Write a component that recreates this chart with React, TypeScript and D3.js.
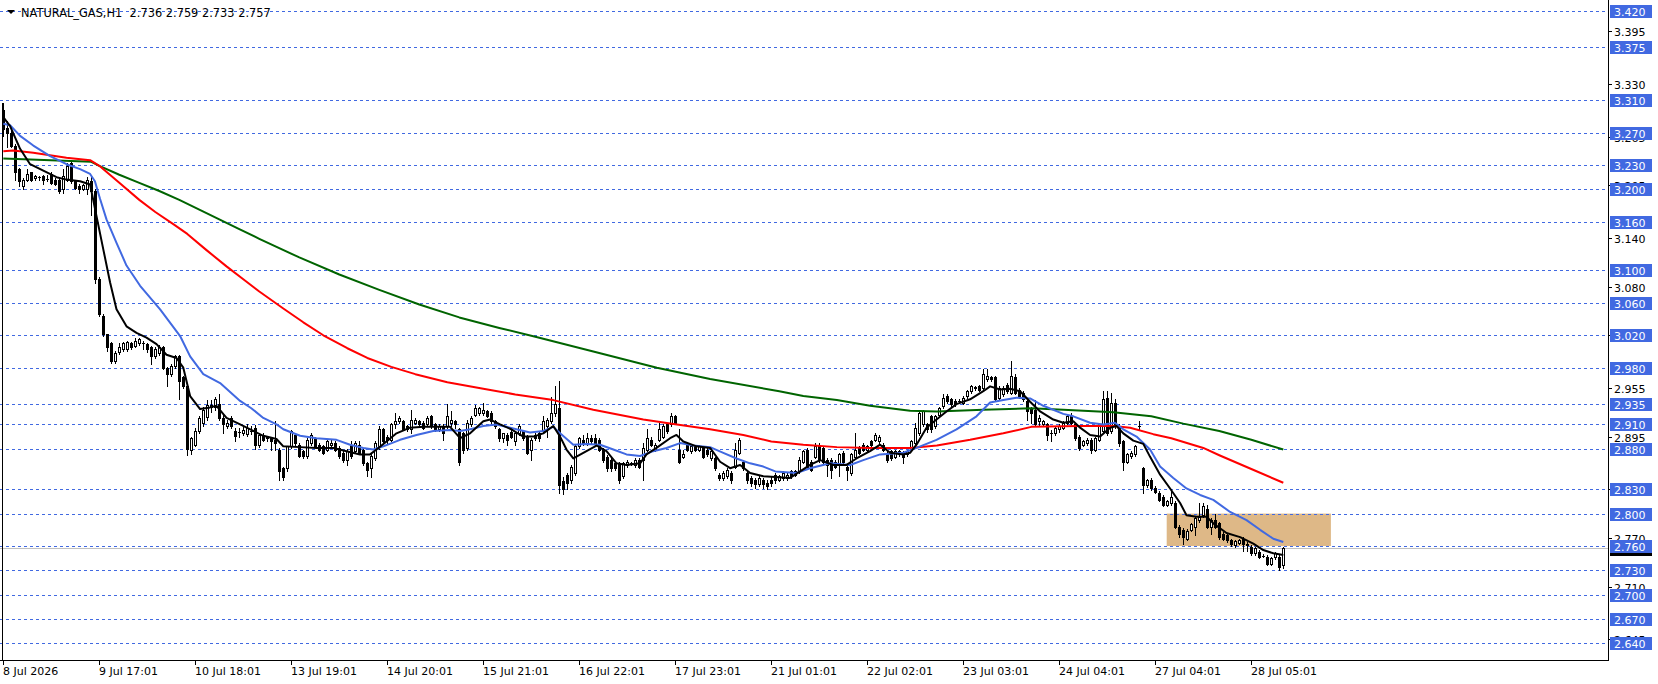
import React from 'react';
import * as d3 from 'd3';

type Bar = [number, number, number, number]; // open, high, low, close
type Pt = [number, number]; // bar index, price

// H1 bars, one group per time-axis section (24 bars each)
const bars08Jul: Bar[] = [
  [3.298, 3.307, 3.266, 3.275], [3.276, 3.284, 3.252, 3.270], [3.270, 3.276, 3.252, 3.254], [3.254, 3.256, 3.212, 3.221],
  [3.225, 3.226, 3.204, 3.210], [3.204, 3.214, 3.200, 3.211], [3.212, 3.225, 3.210, 3.219], [3.221, 3.222, 3.210, 3.212],
  [3.214, 3.218, 3.212, 3.216], [3.215, 3.217, 3.212, 3.215], [3.216, 3.218, 3.207, 3.211], [3.213, 3.218, 3.210, 3.213],
  [3.219, 3.221, 3.206, 3.208], [3.212, 3.214, 3.205, 3.206], [3.212, 3.214, 3.196, 3.198], [3.200, 3.225, 3.196, 3.217],
  [3.212, 3.232, 3.210, 3.229], [3.233, 3.235, 3.208, 3.210], [3.210, 3.212, 3.200, 3.202], [3.204, 3.206, 3.196, 3.200],
  [3.201, 3.207, 3.199, 3.205], [3.200, 3.215, 3.194, 3.212], [3.210, 3.216, 3.168, 3.198], [3.198, 3.200, 3.085, 3.090],
];
const bars09Jul: Bar[] = [
  [3.090, 3.092, 3.044, 3.046], [3.044, 3.046, 3.019, 3.021], [3.021, 3.022, 3.000, 3.005], [3.011, 3.012, 2.986, 2.988],
  [2.988, 3.000, 2.986, 2.998], [2.999, 3.011, 2.997, 3.005], [3.003, 3.012, 3.000, 3.011], [3.003, 3.013, 3.001, 3.012],
  [3.011, 3.012, 3.003, 3.005], [3.007, 3.016, 3.005, 3.013], [3.010, 3.017, 3.008, 3.015], [3.010, 3.013, 3.003, 3.010],
  [3.009, 3.010, 2.999, 3.003], [3.005, 3.007, 2.984, 2.994], [2.994, 3.005, 2.992, 3.003], [2.998, 3.008, 2.996, 3.005],
  [3.005, 3.007, 2.978, 2.980], [2.980, 2.981, 2.957, 2.972], [2.972, 2.984, 2.970, 2.982], [2.982, 2.996, 2.980, 2.994],
  [2.994, 2.996, 2.941, 2.964], [2.968, 2.970, 2.955, 2.957], [2.957, 2.960, 2.872, 2.880], [2.878, 2.895, 2.874, 2.893],
];
const bars10Jul: Bar[] = [
  [2.885, 2.905, 2.883, 2.902], [2.902, 2.920, 2.900, 2.918], [2.912, 2.932, 2.908, 2.928], [2.919, 2.940, 2.915, 2.934],
  [2.932, 2.940, 2.925, 2.934], [2.932, 2.944, 2.928, 2.941], [2.935, 2.948, 2.915, 2.918], [2.918, 2.922, 2.900, 2.910],
  [2.908, 2.915, 2.906, 2.912], [2.918, 2.920, 2.905, 2.908], [2.902, 2.905, 2.890, 2.896], [2.901, 2.905, 2.895, 2.901],
  [2.900, 2.907, 2.897, 2.903], [2.898, 2.910, 2.896, 2.905], [2.902, 2.908, 2.898, 2.902], [2.906, 2.909, 2.880, 2.885],
  [2.885, 2.900, 2.882, 2.897], [2.897, 2.899, 2.889, 2.891], [2.894, 2.896, 2.890, 2.893], [2.893, 2.895, 2.879, 2.889],
  [2.891, 2.914, 2.879, 2.887], [2.879, 2.881, 2.842, 2.852], [2.856, 2.858, 2.842, 2.845], [2.856, 2.884, 2.853, 2.883],
];
const bars13Jul: Bar[] = [
  [2.883, 2.903, 2.881, 2.902], [2.897, 2.900, 2.885, 2.887], [2.885, 2.887, 2.870, 2.871], [2.877, 2.879, 2.869, 2.871],
  [2.871, 2.893, 2.869, 2.891], [2.887, 2.899, 2.885, 2.897], [2.893, 2.895, 2.882, 2.883], [2.885, 2.887, 2.877, 2.879],
  [2.883, 2.885, 2.873, 2.875], [2.879, 2.891, 2.877, 2.889], [2.885, 2.891, 2.883, 2.887], [2.887, 2.889, 2.877, 2.879],
  [2.881, 2.883, 2.869, 2.871], [2.875, 2.877, 2.864, 2.866], [2.866, 2.880, 2.860, 2.877], [2.885, 2.890, 2.869, 2.871],
  [2.877, 2.889, 2.875, 2.887], [2.885, 2.890, 2.873, 2.875], [2.879, 2.881, 2.860, 2.862], [2.862, 2.864, 2.846, 2.854],
  [2.856, 2.873, 2.845, 2.871], [2.868, 2.889, 2.866, 2.887], [2.883, 2.908, 2.880, 2.904], [2.904, 2.906, 2.888, 2.889],
];
const bars14Jul: Bar[] = [
  [2.895, 2.897, 2.887, 2.891], [2.891, 2.912, 2.889, 2.910], [2.910, 2.924, 2.906, 2.914], [2.914, 2.920, 2.912, 2.918],
  [2.914, 2.916, 2.903, 2.904], [2.908, 2.909, 2.902, 2.904], [2.904, 2.928, 2.900, 2.916], [2.912, 2.918, 2.910, 2.916],
  [2.914, 2.916, 2.908, 2.910], [2.912, 2.914, 2.904, 2.906], [2.910, 2.920, 2.908, 2.918], [2.920, 2.922, 2.906, 2.908],
  [2.910, 2.912, 2.902, 2.904], [2.904, 2.910, 2.902, 2.908], [2.908, 2.910, 2.891, 2.899], [2.908, 2.935, 2.906, 2.920],
  [2.912, 2.926, 2.908, 2.916], [2.914, 2.916, 2.906, 2.910], [2.904, 2.906, 2.860, 2.864], [2.899, 2.901, 2.875, 2.879],
  [2.881, 2.916, 2.879, 2.912], [2.910, 2.920, 2.908, 2.918], [2.922, 2.934, 2.920, 2.930], [2.924, 2.932, 2.922, 2.930],
];
const bars15Jul: Bar[] = [
  [2.924, 2.936, 2.922, 2.928], [2.926, 2.928, 2.919, 2.920], [2.924, 2.926, 2.910, 2.914], [2.914, 2.916, 2.906, 2.908],
  [2.904, 2.906, 2.890, 2.893], [2.893, 2.900, 2.888, 2.899], [2.897, 2.899, 2.885, 2.891], [2.901, 2.903, 2.893, 2.895],
  [2.889, 2.901, 2.885, 2.899], [2.899, 2.910, 2.897, 2.908], [2.902, 2.903, 2.891, 2.893], [2.895, 2.897, 2.873, 2.875],
  [2.879, 2.893, 2.866, 2.891], [2.897, 2.899, 2.891, 2.893], [2.899, 2.901, 2.889, 2.893], [2.902, 2.920, 2.899, 2.914],
  [2.908, 2.918, 2.895, 2.916], [2.914, 2.944, 2.912, 2.924], [2.924, 2.957, 2.920, 2.935], [2.930, 2.964, 2.826, 2.835],
  [2.840, 2.845, 2.824, 2.830], [2.848, 2.850, 2.830, 2.838], [2.842, 2.860, 2.838, 2.858], [2.850, 2.885, 2.848, 2.883],
];
const bars16Jul: Bar[] = [
  [2.883, 2.895, 2.881, 2.893], [2.891, 2.897, 2.885, 2.887], [2.887, 2.899, 2.885, 2.893], [2.893, 2.897, 2.887, 2.889],
  [2.893, 2.898, 2.885, 2.887], [2.891, 2.893, 2.877, 2.879], [2.879, 2.881, 2.864, 2.866], [2.870, 2.872, 2.852, 2.856],
  [2.866, 2.868, 2.853, 2.856], [2.862, 2.864, 2.854, 2.856], [2.862, 2.864, 2.838, 2.842], [2.846, 2.864, 2.844, 2.862],
  [2.860, 2.866, 2.858, 2.864], [2.862, 2.864, 2.860, 2.862], [2.860, 2.868, 2.858, 2.866], [2.866, 2.868, 2.856, 2.858],
  [2.866, 2.887, 2.842, 2.881], [2.879, 2.904, 2.877, 2.893], [2.891, 2.895, 2.883, 2.885], [2.879, 2.887, 2.877, 2.885],
  [2.891, 2.912, 2.889, 2.904], [2.895, 2.910, 2.893, 2.908], [2.910, 2.912, 2.899, 2.902], [2.910, 2.924, 2.908, 2.920],
];
const bars17Jul: Bar[] = [
  [2.920, 2.922, 2.910, 2.912], [2.879, 2.904, 2.862, 2.864], [2.870, 2.878, 2.868, 2.874], [2.885, 2.887, 2.877, 2.879],
  [2.877, 2.885, 2.875, 2.883], [2.883, 2.885, 2.877, 2.879], [2.879, 2.885, 2.877, 2.883], [2.881, 2.883, 2.868, 2.870],
  [2.879, 2.881, 2.871, 2.873], [2.868, 2.879, 2.866, 2.877], [2.868, 2.870, 2.854, 2.856], [2.848, 2.850, 2.842, 2.844],
  [2.844, 2.852, 2.842, 2.850], [2.846, 2.856, 2.844, 2.854], [2.850, 2.852, 2.838, 2.842], [2.858, 2.887, 2.856, 2.879],
  [2.875, 2.893, 2.873, 2.891], [2.864, 2.866, 2.854, 2.856], [2.850, 2.852, 2.838, 2.842], [2.844, 2.846, 2.834, 2.838],
  [2.842, 2.844, 2.832, 2.836], [2.836, 2.846, 2.834, 2.844], [2.842, 2.844, 2.832, 2.836], [2.838, 2.842, 2.830, 2.834],
];
const bars21Jul: Bar[] = [
  [2.842, 2.846, 2.834, 2.838], [2.848, 2.850, 2.838, 2.842], [2.842, 2.848, 2.840, 2.846], [2.844, 2.852, 2.842, 2.850],
  [2.844, 2.850, 2.842, 2.848], [2.852, 2.854, 2.844, 2.846], [2.848, 2.854, 2.846, 2.852], [2.852, 2.870, 2.850, 2.866],
  [2.864, 2.879, 2.862, 2.877], [2.879, 2.881, 2.856, 2.858], [2.864, 2.866, 2.852, 2.854], [2.870, 2.887, 2.868, 2.883],
  [2.885, 2.887, 2.864, 2.866], [2.881, 2.883, 2.862, 2.864], [2.866, 2.868, 2.846, 2.860], [2.866, 2.868, 2.844, 2.854],
  [2.864, 2.866, 2.856, 2.858], [2.860, 2.875, 2.846, 2.873], [2.875, 2.877, 2.862, 2.864], [2.858, 2.860, 2.842, 2.854],
  [2.850, 2.875, 2.848, 2.873], [2.870, 2.899, 2.868, 2.879], [2.881, 2.883, 2.873, 2.875], [2.885, 2.887, 2.877, 2.879],
];
const bars22Jul: Bar[] = [
  [2.879, 2.885, 2.877, 2.883], [2.889, 2.891, 2.883, 2.885], [2.891, 2.899, 2.889, 2.897], [2.889, 2.897, 2.887, 2.895],
  [2.885, 2.887, 2.877, 2.879], [2.875, 2.877, 2.864, 2.866], [2.877, 2.879, 2.866, 2.868], [2.870, 2.879, 2.868, 2.877],
  [2.877, 2.879, 2.871, 2.873], [2.875, 2.877, 2.862, 2.870], [2.873, 2.879, 2.871, 2.877], [2.879, 2.891, 2.877, 2.889],
  [2.887, 2.912, 2.885, 2.906], [2.899, 2.926, 2.897, 2.924], [2.910, 2.928, 2.908, 2.926], [2.910, 2.912, 2.901, 2.904],
  [2.920, 2.922, 2.901, 2.904], [2.908, 2.922, 2.906, 2.920], [2.922, 2.932, 2.920, 2.930], [2.933, 2.947, 2.930, 2.943],
  [2.945, 2.947, 2.937, 2.939], [2.941, 2.943, 2.933, 2.935], [2.939, 2.941, 2.933, 2.935], [2.939, 2.941, 2.936, 2.939],
];
const bars23Jul: Bar[] = [
  [2.937, 2.945, 2.935, 2.943], [2.945, 2.953, 2.943, 2.951], [2.951, 2.959, 2.949, 2.957], [2.955, 2.957, 2.953, 2.956],
  [2.957, 2.959, 2.951, 2.953], [2.955, 2.978, 2.953, 2.972], [2.966, 2.978, 2.964, 2.970], [2.968, 2.970, 2.963, 2.966],
  [2.968, 2.970, 2.939, 2.941], [2.943, 2.957, 2.941, 2.955], [2.947, 2.957, 2.945, 2.955], [2.959, 2.961, 2.949, 2.951],
  [2.949, 2.988, 2.947, 2.970], [2.968, 2.972, 2.947, 2.949], [2.953, 2.955, 2.943, 2.945], [2.949, 2.951, 2.939, 2.941],
  [2.939, 2.941, 2.916, 2.926], [2.930, 2.932, 2.912, 2.924], [2.928, 2.940, 2.908, 2.910], [2.914, 2.922, 2.908, 2.918],
  [2.910, 2.916, 2.908, 2.914], [2.910, 2.912, 2.891, 2.897], [2.899, 2.903, 2.889, 2.899], [2.899, 2.908, 2.897, 2.906],
];
const bars24Jul: Bar[] = [
  [2.904, 2.910, 2.901, 2.908], [2.906, 2.914, 2.904, 2.912], [2.912, 2.922, 2.910, 2.920], [2.922, 2.924, 2.910, 2.912],
  [2.910, 2.912, 2.891, 2.893], [2.895, 2.897, 2.879, 2.881], [2.885, 2.891, 2.883, 2.889], [2.887, 2.893, 2.885, 2.891],
  [2.891, 2.893, 2.875, 2.879], [2.879, 2.895, 2.877, 2.893], [2.891, 2.912, 2.889, 2.910], [2.902, 2.951, 2.900, 2.941],
  [2.943, 2.951, 2.897, 2.899], [2.902, 2.949, 2.900, 2.937], [2.937, 2.941, 2.906, 2.908], [2.908, 2.910, 2.883, 2.887],
  [2.889, 2.891, 2.854, 2.864], [2.864, 2.875, 2.862, 2.873], [2.871, 2.877, 2.869, 2.875], [2.873, 2.885, 2.871, 2.883],
  [2.908, 2.914, 2.904, 2.908], [2.856, 2.858, 2.825, 2.835], [2.835, 2.843, 2.833, 2.841], [2.842, 2.844, 2.829, 2.831],
];
const bars27Jul: Bar[] = [
  [2.832, 2.834, 2.825, 2.827], [2.826, 2.828, 2.815, 2.817], [2.821, 2.823, 2.809, 2.811], [2.811, 2.817, 2.809, 2.815],
  [2.813, 2.830, 2.811, 2.821], [2.813, 2.815, 2.782, 2.784], [2.784, 2.786, 2.771, 2.775], [2.780, 2.782, 2.763, 2.771],
  [2.769, 2.781, 2.767, 2.779], [2.780, 2.789, 2.778, 2.787], [2.784, 2.796, 2.774, 2.794], [2.792, 2.813, 2.790, 2.796],
  [2.798, 2.813, 2.796, 2.809], [2.806, 2.810, 2.782, 2.784], [2.784, 2.794, 2.775, 2.792], [2.792, 2.800, 2.782, 2.784],
  [2.788, 2.790, 2.769, 2.771], [2.775, 2.777, 2.767, 2.769], [2.773, 2.775, 2.765, 2.767], [2.767, 2.769, 2.760, 2.762],
  [2.761, 2.768, 2.759, 2.766], [2.764, 2.769, 2.762, 2.767], [2.769, 2.771, 2.754, 2.762], [2.763, 2.765, 2.754, 2.761],
];
const bars28Jul: Bar[] = [
  [2.759, 2.761, 2.749, 2.751], [2.751, 2.759, 2.749, 2.757], [2.753, 2.755, 2.745, 2.747], [2.748, 2.750, 2.746, 2.748],
  [2.747, 2.749, 2.736, 2.738], [2.738, 2.747, 2.736, 2.745], [2.746, 2.753, 2.744, 2.751], [2.747, 2.749, 2.730, 2.734],
  [2.736, 2.759, 2.733, 2.757],
];

// moving averages: [bar index, price]
const maFast: Pt[] = [
  [0, 3.289], [1.7, 3.278], [4.2, 3.25], [6.7, 3.231], [10, 3.223], [13.3, 3.215], [15.8, 3.212], [19.2, 3.21], [21.7, 3.206],
  [23.3, 3.167], [25, 3.126], [26.7, 3.085], [28.3, 3.052], [30.8, 3.031], [33.3, 3.023], [35.8, 3.017], [38.3, 3.009],
  [40.8, 2.996], [43.3, 2.992], [45, 2.98], [46.7, 2.945], [49.2, 2.929], [51.7, 2.931], [53.3, 2.933], [55.8, 2.918],
  [59.2, 2.91], [62.5, 2.902], [65, 2.896], [68.3, 2.892], [70, 2.883], [74.2, 2.882], [78.3, 2.881], [82.5, 2.881],
  [85.8, 2.877], [89.2, 2.873], [91.7, 2.873], [93.3, 2.879], [95.8, 2.889], [98.3, 2.899], [101.7, 2.906], [105, 2.907],
  [111.7, 2.907], [114.2, 2.893], [116.7, 2.899], [120, 2.914], [121.7, 2.916], [124.2, 2.91], [127, 2.904], [130, 2.895],
  [132.5, 2.895], [135, 2.899], [137.5, 2.908], [139.2, 2.895], [140.8, 2.879], [142.5, 2.868], [145, 2.875], [148.3, 2.884],
  [150.8, 2.877], [153.3, 2.862], [155.8, 2.86], [159.2, 2.862], [160.8, 2.873], [163.3, 2.881], [166.7, 2.893], [168.3, 2.897],
  [170, 2.889], [173.3, 2.883], [176.7, 2.881], [179.2, 2.864], [181.7, 2.856], [184.2, 2.86], [186.7, 2.85], [190, 2.846],
  [193, 2.845], [196.7, 2.844], [199.2, 2.852], [201.7, 2.86], [204.2, 2.866], [207.5, 2.86], [210.8, 2.86], [213.3, 2.868],
  [216.7, 2.877], [219.2, 2.885], [221.7, 2.875], [225, 2.873], [226.7, 2.875], [228.3, 2.885], [230.8, 2.906], [233.3, 2.916],
  [235.8, 2.926], [238.3, 2.935], [241.7, 2.941], [245, 2.951], [246.7, 2.957], [249.2, 2.953], [251.7, 2.954], [254.2, 2.951],
  [256.7, 2.938], [259.2, 2.926], [262.5, 2.916], [265, 2.912], [267.5, 2.914], [269.2, 2.906], [271.7, 2.897], [274.2, 2.895],
  [276.7, 2.906], [278.3, 2.908], [280, 2.899], [282.5, 2.89], [285, 2.886], [286.7, 2.87], [289.2, 2.848], [291.7, 2.831],
  [294.2, 2.813], [295.8, 2.798], [298.3, 2.796], [300.8, 2.796], [302.5, 2.788], [305.8, 2.776], [309.2, 2.771],
  [312.5, 2.763], [315, 2.755], [317.5, 2.751], [320, 2.749],
];
const maMid: Pt[] = [
  [0, 3.281], [1.7, 3.279], [4.2, 3.266], [7.5, 3.254], [11.7, 3.241], [15.8, 3.231], [19.2, 3.225], [21.7, 3.219],
  [22.9, 3.21], [24.2, 3.188], [25.8, 3.163], [28.3, 3.134], [30.8, 3.106], [34.2, 3.081], [39.2, 3.052], [44.2, 3.019],
  [46.7, 2.994], [50, 2.972], [54.2, 2.961], [59.2, 2.939], [62, 2.93], [65, 2.918], [68.3, 2.91], [70, 2.904], [74.2, 2.896],
  [78.3, 2.893], [83.3, 2.891], [86.7, 2.885], [90, 2.881], [92.5, 2.879], [95, 2.883], [99.2, 2.891], [103.3, 2.897],
  [107.5, 2.902], [111.7, 2.903], [114.2, 2.902], [116.7, 2.904], [120, 2.908], [123.3, 2.91], [126.7, 2.906], [131.7, 2.9],
  [135, 2.902], [137.5, 2.907], [139.2, 2.899], [142.5, 2.885], [145.8, 2.886], [149.2, 2.885], [152.5, 2.879], [155.8, 2.873],
  [159.2, 2.871], [162.5, 2.877], [165.8, 2.881], [169.2, 2.887], [172.5, 2.884], [176.7, 2.882], [180, 2.875], [183.3, 2.868],
  [186.7, 2.862], [190, 2.858], [193, 2.852], [198.3, 2.85], [201.7, 2.856], [206.7, 2.862], [211.7, 2.86], [215, 2.866],
  [219.2, 2.873], [225, 2.875], [228.3, 2.881], [233.3, 2.891], [238.3, 2.904], [243.3, 2.92], [246.7, 2.937], [250, 2.94],
  [253.3, 2.943], [256.7, 2.942], [260, 2.933], [265, 2.923], [267.5, 2.92], [271.7, 2.912], [275, 2.91], [277.9, 2.912],
  [280, 2.904], [283.3, 2.895], [286.7, 2.879], [289.2, 2.858], [292.5, 2.844], [295.8, 2.831], [299.2, 2.823], [302.5, 2.817],
  [306.7, 2.802], [310.8, 2.792], [314.2, 2.78], [317.5, 2.769], [320, 2.765],
];
const maSlow: Pt[] = [
  [0, 3.247], [2.5, 3.248], [7.5, 3.245], [15.8, 3.239], [21.7, 3.236], [24, 3.229], [29, 3.208], [34, 3.187], [38, 3.172],
  [42.5, 3.157], [46, 3.145], [50.8, 3.125], [55.8, 3.105], [60, 3.089], [64, 3.074], [70, 3.053], [75, 3.036], [80, 3.02],
  [86, 3.004], [91, 2.992], [97, 2.981], [103, 2.972], [111, 2.962], [120, 2.954], [128, 2.947], [137.5, 2.94],
  [147.5, 2.928], [160, 2.916], [168.4, 2.91], [176.7, 2.904], [185, 2.897], [192, 2.889], [200, 2.885], [208.4, 2.882],
  [216.7, 2.881], [226.7, 2.881], [233.4, 2.884], [241.7, 2.891], [250, 2.899], [257, 2.907], [269.2, 2.908], [277.5, 2.908],
  [281.7, 2.906], [287.5, 2.898], [292, 2.893], [300, 2.881], [304, 2.872], [312, 2.855], [320, 2.838],
];
const maLong: Pt[] = [
  [0, 3.238], [22, 3.234], [24, 3.229], [29, 3.218], [34, 3.208], [39, 3.198], [44, 3.187], [49, 3.175], [54, 3.163],
  [59, 3.151], [64, 3.139], [74, 3.116], [84, 3.095], [94, 3.076], [104, 3.058], [114, 3.042], [124, 3.029], [134, 3.017],
  [147.5, 3.0], [163.4, 2.98], [176.7, 2.966], [194, 2.951], [200, 2.945], [208.4, 2.94], [216.7, 2.933], [226.7, 2.927],
  [233.4, 2.926], [245, 2.928], [257, 2.93], [265, 2.928], [277.5, 2.925], [287, 2.92], [295, 2.911], [304, 2.902],
  [312, 2.891], [320, 2.879],
];

const levelPrices = [3.42, 3.375, 3.31, 3.27, 3.23, 3.2, 3.16, 3.1, 3.06, 3.02, 2.98, 2.935, 2.91, 2.88, 2.83, 2.8, 2.76, 2.73, 2.7, 2.67, 2.64];
const axisTickPrices = [3.395, 3.33, 3.265, 3.205, 3.14, 3.08, 3.02, 2.955, 2.895, 2.83, 2.77, 2.71, 2.645];
const timeLabels = ['8 Jul 2026', '9 Jul 17:01', '10 Jul 18:01', '13 Jul 19:01', '14 Jul 20:01', '15 Jul 21:01', '16 Jul 22:01',
  '17 Jul 23:01', '21 Jul 01:01', '22 Jul 02:01', '23 Jul 03:01', '24 Jul 04:01', '27 Jul 04:01', '28 Jul 05:01'];
const timeLabelBars = [0, 24, 48, 72, 96, 120, 144, 168, 192, 216, 240, 264, 288, 312];
const zoneBars = [290.85, 331.9];
const zonePrices = [2.8, 2.76];
const bidPrice = 2.757;
const symbol = 'NATURAL_GAS,H1';

const W = 1658;
const H = 684;
const PLOT_R = 1608;
const PLOT_B = 660;
const FONT = "'DejaVu Sans', Tahoma, sans-serif";
const BLUE = '#4169e1';

export default function App() {
  const candles: Bar[] = ([] as Bar[]).concat(
    bars08Jul, bars09Jul, bars10Jul, bars13Jul, bars14Jul, bars15Jul, bars16Jul,
    bars17Jul, bars21Jul, bars22Jul, bars23Jul, bars24Jul, bars27Jul, bars28Jul,
  );
  const last = candles[candles.length - 1];

  const x = d3.scaleLinear().domain([0, 320]).range([3.3, 1283.3]);
  const y = d3.scaleLinear().domain([2.64, 3.42]).range([643.3, 11]);
  const px = (i: number) => Math.round(x(i)) + 0.5;
  const py = (p: number) => Math.round(y(p));

  const line = d3.line<Pt>().x(d => x(d[0])).y(d => y(d[1]));

  const maLines = [
    { data: maLong, color: '#006400' },
    { data: maSlow, color: '#ff0000' },
    { data: maMid, color: '#4169e1' },
    { data: maFast, color: '#000000' },
  ];

  return (
    <svg width={W} height={H} style={{ position: 'absolute', left: 0, top: 0, background: '#fff' }} fontFamily={FONT}>
      <rect x={0} y={0} width={W} height={H} fill="#fff" />

      {/* rectangle object */}
      <rect x={x(zoneBars[0])} y={y(zonePrices[0])} width={x(zoneBars[1]) - x(zoneBars[0])}
        height={y(zonePrices[1]) - y(zonePrices[0])} fill="#deb887" />

      {/* horizontal level lines */}
      {levelPrices.map(p => (
        <line key={'l' + p} x1={0} x2={PLOT_R} y1={py(p) + 0.5} y2={py(p) + 0.5} stroke={BLUE} strokeDasharray="3,3" />
      ))}

      {/* bid line */}
      <line x1={0} x2={PLOT_R} y1={py(bidPrice) + 0.5} y2={py(bidPrice) + 0.5} stroke="#c0c0c0" />

      {/* candles */}
      {candles.map((b, i) => {
        const [o, h, l, c] = b;
        const cx = px(i);
        const yt = py(Math.max(o, c));
        const yb = py(Math.min(o, c));
        const bull = c >= o;
        return (
          <g key={i}>
            <line x1={cx} x2={cx} y1={py(h)} y2={py(l) + 1} stroke="#000" />
            {yb === yt ? (
              <line x1={cx - 1.5} x2={cx + 1.5} y1={yt + 0.5} y2={yt + 0.5} stroke="#000" />
            ) : bull ? (
              <rect x={cx - 1} y={yt + 0.5} width={2} height={yb - yt} fill="#fff" stroke="#000" />
            ) : (
              <rect x={cx - 1.5} y={yt} width={3} height={yb - yt + 1} fill="#000" />
            )}
          </g>
        );
      })}

      {/* moving averages */}
      {maLines.map((m, k) => (
        <path key={'ma' + k} d={line(m.data) || ''} fill="none" stroke={m.color} strokeWidth={2} strokeLinejoin="round" />
      ))}

      {/* frame */}
      <line x1={2.5} x2={2.5} y1={py(3.307)} y2={PLOT_B + 1} stroke="#000" />
      <line x1={PLOT_R + 0.5} x2={PLOT_R + 0.5} y1={0} y2={PLOT_B + 1} stroke="#000" />
      <line x1={0} x2={PLOT_R + 1} y1={PLOT_B + 0.5} y2={PLOT_B + 0.5} stroke="#000" />

      {/* price axis ticks */}
      {axisTickPrices.map(p => (
        <g key={'t' + p}>
          <line x1={PLOT_R} x2={PLOT_R + 4} y1={py(p) + 0.5} y2={py(p) + 0.5} stroke="#000" />
          <text x={PLOT_R + 6} y={py(p) + 4.5} fontSize={11} fill="#000">{p.toFixed(3)}</text>
        </g>
      ))}

      {/* bid label */}
      <rect x={PLOT_R + 2} y={py(bidPrice) - 6} width={42} height={14} fill="#000" />

      {/* level labels */}
      {levelPrices.map(p => (
        <g key={'lb' + p}>
          <rect x={PLOT_R + 2} y={py(p) - 6} width={42} height={13} fill={BLUE} />
          <text x={PLOT_R + 6} y={py(p) + 4.5} fontSize={11} fill="#fff">{p.toFixed(3)}</text>
        </g>
      ))}

      {/* time axis */}
      {timeLabelBars.map((b, k) => (
        <g key={'x' + b}>
          <line x1={px(b)} x2={px(b)} y1={PLOT_B} y2={PLOT_B + 5} stroke="#000" />
          <text x={px(b) - 0.5} y={PLOT_B + 15} fontSize={11} fill="#000">{timeLabels[k]}</text>
        </g>
      ))}

      {/* title */}
      <path d="M7,10 L15,10 L11,14 Z" fill="#000" />
      <text x={21} y={16.5} fontSize={11.4} fill="#000" style={{ whiteSpace: 'pre' }}>
        {`${symbol}  ${last[0].toFixed(3)} ${last[1].toFixed(3)} ${last[2].toFixed(3)} ${last[3].toFixed(3)}`}
      </text>
    </svg>
  );
}
